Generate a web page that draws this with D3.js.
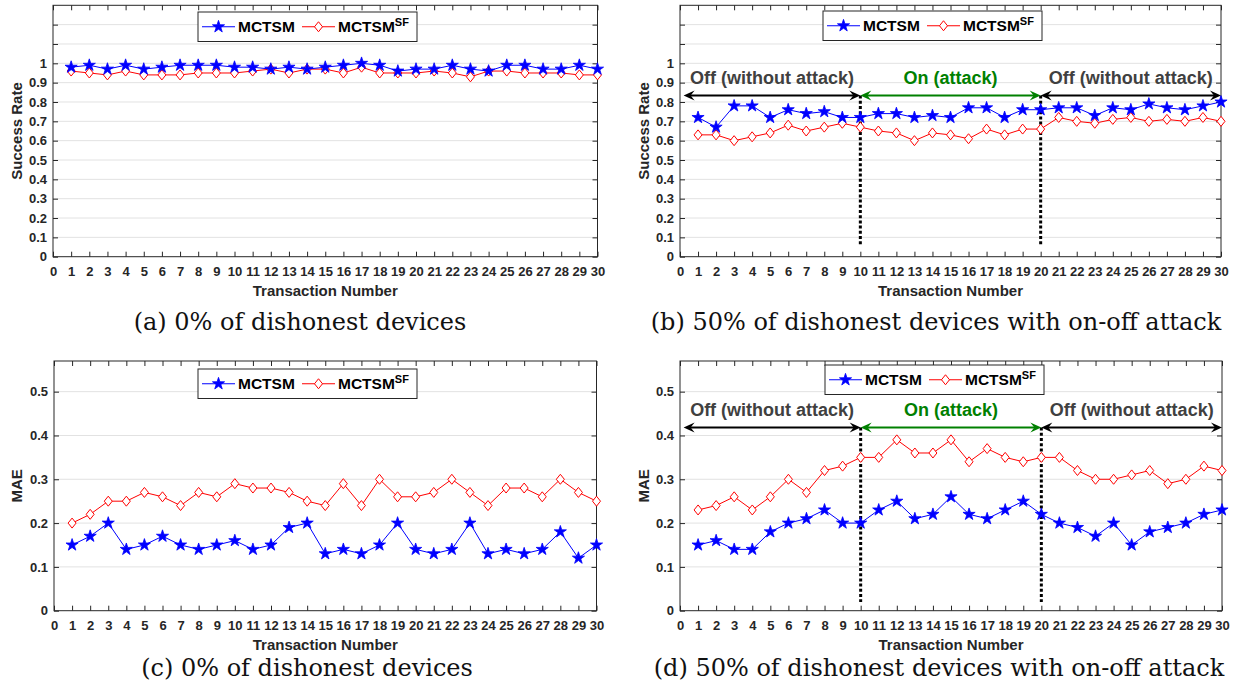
<!DOCTYPE html>
<html>
<head>
<meta charset="utf-8">
<script src="https://cdn.jsdelivr.net/npm/d3@7"></script>
<style>
body { margin: 0; background: #fff; }
text { font-family: "Liberation Sans", Arial, sans-serif; }
.cap { font-family: "DejaVu Serif", serif; }
</style>
</head>
<body>
<svg id="fig" width="1247" height="695"></svg>
<script>
// transaction numbers on the x axis
const transactions = [1,2,3,4,5,6,7,8,9,10,11,12,13,14,15,16,17,18,19,20,21,22,23,24,25,26,27,28,29,30];
const xTicks = [0,1,2,3,4,5,6,7,8,9,10,11,12,13,14,15,16,17,18,19,20,21,22,23,24,25,26,27,28,29,30];

// success rate, 0% dishonest
const srHonestMCTSM = [0.98,0.99,0.97,0.99,0.97,0.98,0.99,0.99,0.99,0.98,0.98,0.97,0.98,0.97,0.98,0.99,1.00,0.99,0.96,0.97,0.97,0.99,0.97,0.96,0.99,0.99,0.97,0.97,0.99,0.97];
const srHonestSF    = [0.96,0.95,0.94,0.96,0.94,0.94,0.94,0.95,0.95,0.95,0.96,0.97,0.95,0.97,0.97,0.95,0.98,0.95,0.95,0.95,0.96,0.95,0.93,0.96,0.96,0.95,0.95,0.95,0.94,0.94];
// success rate, 50% dishonest with on-off attack
const srAttackMCTSM = [0.72,0.67,0.78,0.78,0.72,0.76,0.74,0.75,0.72,0.72,0.74,0.74,0.72,0.73,0.72,0.77,0.77,0.72,0.76,0.76,0.77,0.77,0.73,0.77,0.76,0.79,0.77,0.76,0.78,0.80];
const srAttackSF    = [0.63,0.63,0.60,0.62,0.64,0.68,0.65,0.67,0.69,0.67,0.65,0.64,0.60,0.64,0.63,0.61,0.66,0.63,0.66,0.66,0.72,0.70,0.69,0.71,0.72,0.70,0.71,0.70,0.72,0.70];
// MAE, 0% dishonest
const maeHonestMCTSM = [0.15,0.17,0.20,0.14,0.15,0.17,0.15,0.14,0.15,0.16,0.14,0.15,0.19,0.20,0.13,0.14,0.13,0.15,0.20,0.14,0.13,0.14,0.20,0.13,0.14,0.13,0.14,0.18,0.12,0.15];
const maeHonestSF    = [0.20,0.22,0.25,0.25,0.27,0.26,0.24,0.27,0.26,0.29,0.28,0.28,0.27,0.25,0.24,0.29,0.24,0.30,0.26,0.26,0.27,0.30,0.27,0.24,0.28,0.28,0.26,0.30,0.27,0.25];
// MAE, 50% dishonest with on-off attack
const maeAttackMCTSM = [0.15,0.16,0.14,0.14,0.18,0.20,0.21,0.23,0.20,0.20,0.23,0.25,0.21,0.22,0.26,0.22,0.21,0.23,0.25,0.22,0.20,0.19,0.17,0.20,0.15,0.18,0.19,0.20,0.22,0.23];
const maeAttackSF    = [0.23,0.24,0.26,0.23,0.26,0.30,0.27,0.32,0.33,0.35,0.35,0.39,0.36,0.36,0.39,0.34,0.37,0.35,0.34,0.35,0.35,0.32,0.30,0.30,0.31,0.32,0.29,0.30,0.33,0.32];

const srTicks = [0,0.1,0.2,0.3,0.4,0.5,0.6,0.7,0.8,0.9,1,1.1,1.2];
const srTickLabels = ["0","0.1","0.2","0.3","0.4","0.5","0.6","0.7","0.8","0.9","1","",""];
const maeTicks = [0,0.1,0.2,0.3,0.4,0.5];
const maeTickLabels = ["0","0.1","0.2","0.3","0.4","0.5"];

const seriesNames = ["MCTSM", "MCTSM"];
const phaseLabels = ["Off (without attack)", "On (attack)", "Off (without attack)"];
const phaseBounds = [[0.2, 10], [10, 20], [20, 30]];
const phaseSwitches = [10, 20];

const svg = d3.select("#fig");
const axisColor = "#262626";

const panels = [
  { left: 53, right: 597.5, top: 5.3, bottom: 256.7, yMax: 1.3, ticks: srTicks, labels: srTickLabels,
    ylab: "Success Rate", ylabX: 22, mctsm: srHonestMCTSM, sf: srHonestSF,
    legend: [198, 12], caption: "(a) 0% of dishonest devices", capX: 300, capY: 330 },
  { left: 680, right: 1221, top: 5.3, bottom: 256.7, yMax: 1.3, ticks: srTicks, labels: srTickLabels,
    ylab: "Success Rate", ylabX: 649, mctsm: srAttackMCTSM, sf: srAttackSF,
    legend: [823, 11], caption: "(b) 50% of dishonest devices with on-off attack", capX: 936, capY: 330,
    attack: { arrowY: 0.833, textY: 0.892, dotY0: 0.06 } },
  { left: 54, right: 596.5, top: 361, bottom: 610.7, yMax: 0.57, ticks: maeTicks, labels: maeTickLabels,
    ylab: "MAE", ylabX: 22, mctsm: maeHonestMCTSM, sf: maeHonestSF,
    legend: [198, 369], caption: "(c) 0% of dishonest devices", capX: 307, capY: 676 },
  { left: 680, right: 1222, top: 361, bottom: 610.7, yMax: 0.57, ticks: maeTicks, labels: maeTickLabels,
    ylab: "MAE", ylabX: 649, mctsm: maeAttackMCTSM, sf: maeAttackSF,
    legend: [825, 365], caption: "(d) 50% of dishonest devices with on-off attack", capX: 939, capY: 676,
    attack: { arrowY: 0.418, textY: 0.445, dotY0: 0.02 } }
];

const star = d3.symbol().type(d3.symbolStar).size(46);
const diamond = "M0,-5L4,0L0,5L-4,0Z";

function arrowHead(g, x, y, dir, color) {
  // dir = 1 points right, -1 points left
  const L = 11, W = 5, n = 7;
  g.append("path")
    .attr("d", `M${x},${y}L${x - dir * L},${y - W}L${x - dir * n},${y}L${x - dir * L},${y + W}Z`)
    .attr("fill", color);
}

function drawPanel(p) {
  const x = d3.scaleLinear().domain([0, 30]).range([p.left, p.right]);
  const y = d3.scaleLinear().domain([0, p.yMax]).range([p.bottom, p.top]);
  const g = svg.append("g");

  // horizontal grid
  g.selectAll(".grid").data(p.ticks.filter(d => d > 0)).enter().append("line")
    .attr("x1", p.left).attr("x2", p.right)
    .attr("y1", d => y(d)).attr("y2", d => y(d))
    .attr("stroke", "#e2e2e2").attr("stroke-width", 1);

  // axes, ticks pointing inward
  const bottom = g.append("g").attr("transform", `translate(0,${p.bottom})`)
    .call(d3.axisBottom(x).tickValues(xTicks).tickSize(-5).tickPadding(10).tickFormat(d3.format("d")));
  const left = g.append("g").attr("transform", `translate(${p.left},0)`)
    .call(d3.axisLeft(y).tickValues(p.ticks).tickSize(-5).tickPadding(6).tickFormat((d, i) => p.labels[i]));
  const top = g.append("g").attr("transform", `translate(0,${p.top})`)
    .call(d3.axisTop(x).tickValues(xTicks).tickSize(-5).tickFormat(""));
  const right = g.append("g").attr("transform", `translate(${p.right},0)`)
    .call(d3.axisRight(y).tickValues(p.ticks).tickSize(-5).tickFormat(""));

  [bottom, left, top, right].forEach(a => {
    a.select(".domain").remove();
    a.selectAll("line").attr("stroke", axisColor);
    a.selectAll("text").attr("fill", axisColor).style("font-size", "13px").style("font-weight", "bold");
  });

  g.append("rect")
    .attr("x", p.left).attr("y", p.top)
    .attr("width", p.right - p.left).attr("height", p.bottom - p.top)
    .attr("fill", "none").attr("stroke", axisColor).attr("stroke-width", 1);

  // axis titles
  g.append("text")
    .attr("x", (p.left + p.right) / 2).attr("y", p.bottom + 39)
    .attr("text-anchor", "middle")
    .style("font-size", "15px").style("font-weight", "bold").attr("fill", axisColor)
    .text("Transaction Number");
  g.append("text")
    .attr("transform", `translate(${p.ylabX},${(p.top + p.bottom) / 2})rotate(-90)`)
    .attr("text-anchor", "middle")
    .style("font-size", "15px").style("font-weight", "bold").attr("fill", axisColor)
    .text(p.ylab);

  // on-off attack annotations
  if (p.attack) {
    const a = p.attack;
    const ay = y(a.arrowY);
    phaseSwitches.forEach(s => {
      g.append("line")
        .attr("x1", x(s)).attr("x2", x(s))
        .attr("y1", ay).attr("y2", y(a.dotY0))
        .attr("stroke", "#000").attr("stroke-width", 3)
        .attr("stroke-dasharray", "3,2.2");
    });
    phaseBounds.forEach((b, i) => {
      const color = i === 1 ? "#008000" : "#000";
      g.append("line")
        .attr("x1", x(b[0]) + 4).attr("x2", x(b[1]) - 4)
        .attr("y1", ay).attr("y2", ay)
        .attr("stroke", color).attr("stroke-width", 2);
      arrowHead(g, x(b[0]), ay, -1, color);
      arrowHead(g, x(b[1]), ay, 1, color);
      g.append("text")
        .attr("x", x((b[0] + b[1]) / 2)).attr("y", y(a.textY))
        .attr("text-anchor", "middle")
        .style("font-size", "18px").style("font-weight", "bold")
        .attr("fill", i === 1 ? "#008000" : "#404040")
        .text(phaseLabels[i]);
    });
  }

  // series
  const line = d3.line().x((d, i) => x(transactions[i])).y(d => y(d));
  g.append("path").datum(p.sf).attr("d", line)
    .attr("fill", "none").attr("stroke", "#ff0000").attr("stroke-width", 1);
  g.append("path").datum(p.mctsm).attr("d", line)
    .attr("fill", "none").attr("stroke", "#0000ff").attr("stroke-width", 1);

  g.selectAll(".sf").data(p.sf).enter().append("path")
    .attr("transform", (d, i) => `translate(${x(transactions[i])},${y(d)})`)
    .attr("d", diamond)
    .attr("fill", "#fff").attr("stroke", "#ff0000").attr("stroke-width", 1);
  g.selectAll(".mc").data(p.mctsm).enter().append("path")
    .attr("transform", (d, i) => `translate(${x(transactions[i])},${y(d)})`)
    .attr("d", star)
    .attr("fill", "#0000ff").attr("stroke", "#0000ff").attr("stroke-width", 0.8);

  // legend
  const [lx, ly] = p.legend;
  const lg = g.append("g").attr("transform", `translate(${lx},${ly})`);
  lg.append("rect").attr("width", 219).attr("height", 29.5)
    .attr("fill", "#fff").attr("stroke", "#262626").attr("stroke-width", 1);
  const cy = 14.75;
  lg.append("line").attr("x1", 4).attr("x2", 37).attr("y1", cy).attr("y2", cy)
    .attr("stroke", "#0000ff").attr("stroke-width", 1);
  lg.append("path").attr("transform", `translate(20.5,${cy})`).attr("d", star)
    .attr("fill", "#0000ff").attr("stroke", "#0000ff").attr("stroke-width", 0.8);
  lg.append("text").attr("x", 40).attr("y", cy + 5.6)
    .style("font-size", "15.5px").style("font-weight", "bold").attr("fill", "#000")
    .text(seriesNames[0]);
  lg.append("line").attr("x1", 104).attr("x2", 137).attr("y1", cy).attr("y2", cy)
    .attr("stroke", "#ff0000").attr("stroke-width", 1);
  lg.append("path").attr("transform", `translate(120.5,${cy})`).attr("d", diamond)
    .attr("fill", "#fff").attr("stroke", "#ff0000").attr("stroke-width", 1);
  const t2 = lg.append("text").attr("x", 140).attr("y", cy + 5.6)
    .style("font-size", "15.5px").style("font-weight", "bold").attr("fill", "#000");
  t2.append("tspan").text(seriesNames[1]);
  t2.append("tspan").attr("dy", -6).style("font-size", "11px").text("SF");

  // caption
  svg.append("text").attr("class", "cap")
    .attr("x", p.capX).attr("y", p.capY)
    .attr("text-anchor", "middle")
    .style("font-size", "24px").attr("fill", "#111")
    .text(p.caption);
}

panels.forEach(drawPanel);
</script>
</body>
</html>
